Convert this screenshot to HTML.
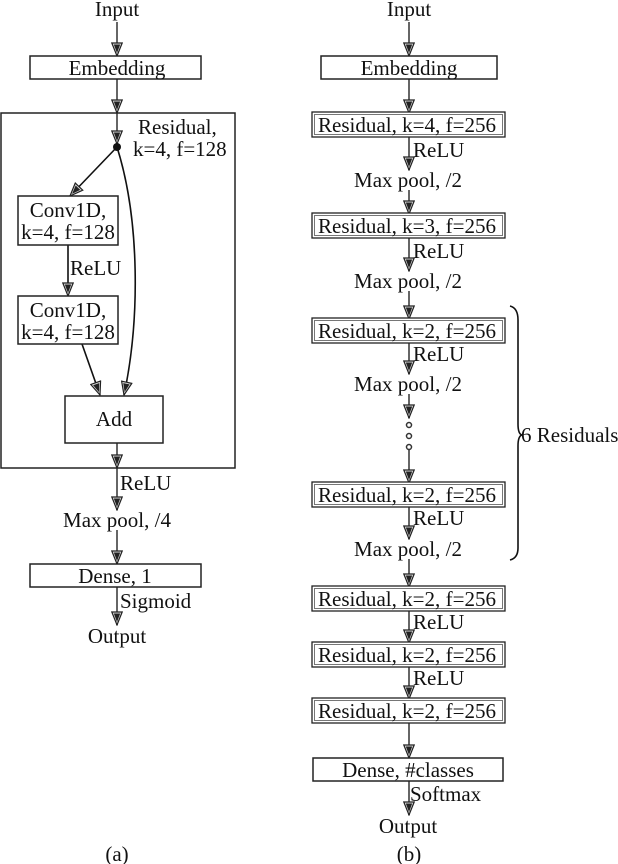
<!DOCTYPE html>
<html><head><meta charset="utf-8"><style>
html,body{margin:0;padding:0;background:#fff;}
svg{display:block;}
text{font-family:"Liberation Serif",serif;font-size:21px;fill:#111;}
</style></head><body>
<svg width="618" height="864" viewBox="0 0 618 864" xmlns="http://www.w3.org/2000/svg">
<defs>
<marker id="a" markerWidth="15" markerHeight="12" refX="14" refY="6" orient="auto" markerUnits="userSpaceOnUse" viewBox="0 0 15 12">
<polygon points="1,0.8 14,6 1,11.2" fill="#ddd" stroke="#222" stroke-width="1.2"/>
<polygon points="2.5,2.8 11,6 2.5,9.2" fill="#222"/>
</marker>
</defs>
<g stroke="#666" stroke-width="2" fill="none">
<line x1="117" y1="22" x2="117" y2="56" marker-end="url(#a)"/>
<line x1="117" y1="79" x2="117" y2="113" marker-end="url(#a)"/>
<line x1="117" y1="113" x2="117" y2="144" marker-end="url(#a)"/>
<line x1="117" y1="443" x2="117" y2="468" marker-end="url(#a)"/>
<line x1="117" y1="468" x2="117" y2="510" marker-end="url(#a)"/>
<line x1="117" y1="530" x2="117" y2="564" marker-end="url(#a)"/>
<line x1="117" y1="587" x2="117" y2="625" marker-end="url(#a)"/>
<line x1="409" y1="22" x2="409" y2="56" marker-end="url(#a)"/>
<line x1="409" y1="79" x2="409" y2="113" marker-end="url(#a)"/>
<line x1="409" y1="137" x2="409" y2="170" marker-end="url(#a)"/>
<line x1="409" y1="190" x2="409" y2="214" marker-end="url(#a)"/>
<line x1="409" y1="238" x2="409" y2="271" marker-end="url(#a)"/>
<line x1="409" y1="291" x2="409" y2="319" marker-end="url(#a)"/>
<line x1="409" y1="343" x2="409" y2="374" marker-end="url(#a)"/>
<line x1="409" y1="394" x2="409" y2="418" marker-end="url(#a)"/>
<line x1="409" y1="450" x2="409" y2="483" marker-end="url(#a)"/>
<line x1="409" y1="507" x2="409" y2="539" marker-end="url(#a)"/>
<line x1="409" y1="559" x2="409" y2="587" marker-end="url(#a)"/>
<line x1="409" y1="611" x2="409" y2="643" marker-end="url(#a)"/>
<line x1="409" y1="667" x2="409" y2="699" marker-end="url(#a)"/>
<line x1="409" y1="723" x2="409" y2="758" marker-end="url(#a)"/>
<line x1="409" y1="781" x2="409" y2="815" marker-end="url(#a)"/>
</g>
<g stroke="#111" stroke-width="1.6" fill="none">
<line x1="117" y1="147" x2="70" y2="196" marker-end="url(#a)"/>
<line x1="68" y1="245" x2="68" y2="296" marker-end="url(#a)"/>
<line x1="82" y1="344" x2="100" y2="395" marker-end="url(#a)"/>
<path d="M117,147 C140,220 140,320 124,395" marker-end="url(#a)"/>
<path d="M510,306 Q518,308 518,320 L518,424 Q518,434 522,435 Q518,436 518,446 L518,548 Q518,558 510,560"/>
</g>
<circle cx="117" cy="147" r="4" fill="#111"/>
<g fill="#fff" stroke="#333" stroke-width="1.5">
<circle cx="409" cy="425" r="2.5"/>
<circle cx="409" cy="436" r="2.5"/>
<circle cx="409" cy="447" r="2.5"/>
</g>
<g fill="#fff" stroke="#222" stroke-width="1.5">
<rect x="1" y="113" width="234" height="355" fill="none"/>
<rect x="30" y="56" width="171" height="23"/>
<rect x="18" y="196" width="100" height="49"/>
<rect x="18" y="296" width="100" height="48"/>
<rect x="65" y="396" width="98" height="47"/>
<rect x="30" y="564" width="171" height="23"/>
<rect x="321" y="56" width="176" height="23"/>
<rect x="313" y="758" width="190" height="23"/>
</g>
<g fill="#fff" stroke="#222" stroke-width="1.3">
<rect x="312" y="112" width="193" height="25"/>
<rect x="312" y="213" width="193" height="25"/>
<rect x="312" y="318" width="193" height="25"/>
<rect x="312" y="482" width="193" height="25"/>
<rect x="312" y="586" width="193" height="25"/>
<rect x="312" y="642" width="193" height="25"/>
<rect x="312" y="698" width="193" height="25"/>
</g>
<g fill="none" stroke="#555" stroke-width="0.8">
<rect x="314.5" y="114.5" width="188" height="20"/>
<rect x="314.5" y="215.5" width="188" height="20"/>
<rect x="314.5" y="320.5" width="188" height="20"/>
<rect x="314.5" y="484.5" width="188" height="20"/>
<rect x="314.5" y="588.5" width="188" height="20"/>
<rect x="314.5" y="644.5" width="188" height="20"/>
<rect x="314.5" y="700.5" width="188" height="20"/>
</g>
<g text-anchor="middle">
<text x="117" y="16">Input</text>
<text x="117" y="75">Embedding</text>
<text x="68" y="217">Conv1D,</text>
<text x="68" y="239">k=4, f=128</text>
<text x="68" y="317">Conv1D,</text>
<text x="68" y="339">k=4, f=128</text>
<text x="114" y="426">Add</text>
<text x="117" y="527">Max pool, /4</text>
<text x="115" y="583">Dense, 1</text>
<text x="117" y="643">Output</text>
<text x="117" y="861">(a)</text>
<text x="409" y="16">Input</text>
<text x="409" y="75">Embedding</text>
<text x="408" y="187">Max pool, /2</text>
<text x="408" y="288">Max pool, /2</text>
<text x="408" y="391">Max pool, /2</text>
<text x="408" y="556">Max pool, /2</text>
<text x="408" y="777">Dense, #classes</text>
<text x="408" y="833">Output</text>
<text x="409" y="861">(b)</text>
</g>
<text x="318" y="132" textLength="178" lengthAdjust="spacingAndGlyphs">Residual, k=4, f=256</text>
<text x="318" y="233" textLength="178" lengthAdjust="spacingAndGlyphs">Residual, k=3, f=256</text>
<text x="318" y="338" textLength="178" lengthAdjust="spacingAndGlyphs">Residual, k=2, f=256</text>
<text x="318" y="502" textLength="178" lengthAdjust="spacingAndGlyphs">Residual, k=2, f=256</text>
<text x="318" y="606" textLength="178" lengthAdjust="spacingAndGlyphs">Residual, k=2, f=256</text>
<text x="318" y="662" textLength="178" lengthAdjust="spacingAndGlyphs">Residual, k=2, f=256</text>
<text x="318" y="718" textLength="178" lengthAdjust="spacingAndGlyphs">Residual, k=2, f=256</text>
<text x="138" y="134">Residual,</text>
<text x="133" y="156">k=4, f=128</text>
<text x="70" y="275">ReLU</text>
<text x="120" y="490">ReLU</text>
<text x="120" y="608">Sigmoid</text>
<text x="413" y="157">ReLU</text>
<text x="413" y="258">ReLU</text>
<text x="413" y="361">ReLU</text>
<text x="413" y="525">ReLU</text>
<text x="413" y="629">ReLU</text>
<text x="413" y="685">ReLU</text>
<text x="410" y="801">Softmax</text>
<text x="521" y="442">6 Residuals</text>
</svg>
</body></html>
